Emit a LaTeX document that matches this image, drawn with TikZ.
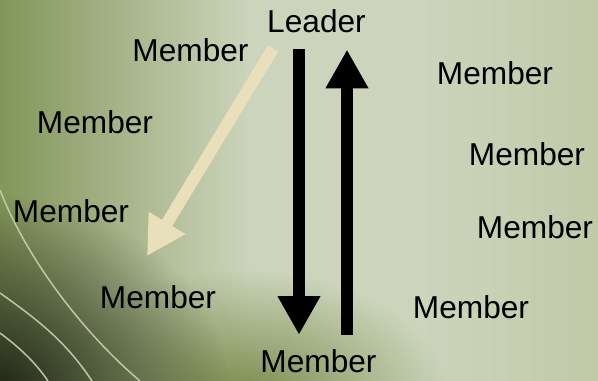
\documentclass[tikz,border=0pt]{standalone}
\usepackage{fontspec}
\setmainfont{Liberation Sans}
\usetikzlibrary{arrows.meta,calc,fadings}
\definecolor{bgolive}{RGB}{130,150,90}
\definecolor{bglight}{RGB}{204,213,188}
\definecolor{bgright}{RGB}{192,202,168}
\definecolor{bgdark}{RGB}{28,34,20}
\definecolor{bgmoss}{RGB}{118,138,72}
\definecolor{arcline}{RGB}{200,208,170}
\definecolor{delegtan}{RGB}{234,223,187}
\tikzfading[name=glow,inner color=transparent!0,outer color=transparent!100]
\pgfdeclarehorizontalshading{bgsweep}{100bp}{color(0bp)=(bgolive); color(25bp)=(bgolive);
  color(46bp)=(bglight); color(60bp)=(bglight); color(75bp)=(bgright); color(100bp)=(bgright)}

\begin{document}
\begin{tikzpicture}[x=0.025cm,y=-0.025cm,
    role/.style={anchor=base,inner sep=0pt,font=\fontsize{22.5}{27}\selectfont},
    bigarrow/.style={line width=8.5pt,-{Triangle[width=28.5pt,length=27.5pt]}}]
  \useasboundingbox (0,0) rectangle (598,381);
  % background
  \begin{scope}
    \clip (0,0) rectangle (598,381);
    \shade[shading=bgsweep] (0,0) rectangle (598,381);
    \fill[bgmoss,path fading=glow] (240,400) ellipse (210 and 130);
    \fill[bgdark,path fading=glow] (-10,395) ellipse (240 and 200);
    \draw[arcline,line width=1.1pt,opacity=0.9] (0,190) .. controls (25,255) and (80,330) .. (140,381);
    \draw[arcline,line width=1.1pt,opacity=0.9] (0,293) .. controls (35,318) and (65,340) .. (92,381);
    \draw[arcline,line width=1.1pt,opacity=0.9] (0,333) .. controls (20,348) and (35,362) .. (48,381);
  \end{scope}
  % labels
  \node[role] (leader) at (316.5,33) {Leader};
  \node[role] (mtop) at (190.5,62) {Member};
  \node[role] (mleft) at (95,133) {Member};
  \node[role] (medge) at (71,222) {Member};
  \node[role] (mlow) at (158,308) {Member};
  \node[role] (mbot) at (318.5,372) {Member};
  \node[role] (mright) at (495,85) {Member};
  \node[role] (mright2) at (527,165) {Member};
  \node[role] (mright3) at (535,238) {Member};
  \node[role] (mright4) at (471,318) {Member};
  % arrows
  \coordinate (handoff) at (147,256);
  \draw[bigarrow] ($(leader.south)+(-17.5,15)$) -- ($(mbot.north)+(-19.5,-14)$);
  \draw[bigarrow] ($(mbot.north)+(28.5,-14)$) -- ($(leader.south)+(30.5,16)$);
  \draw[bigarrow,delegtan] ($(leader.south)+(-43.5,15)$) -- (handoff);
\end{tikzpicture}
\end{document}
